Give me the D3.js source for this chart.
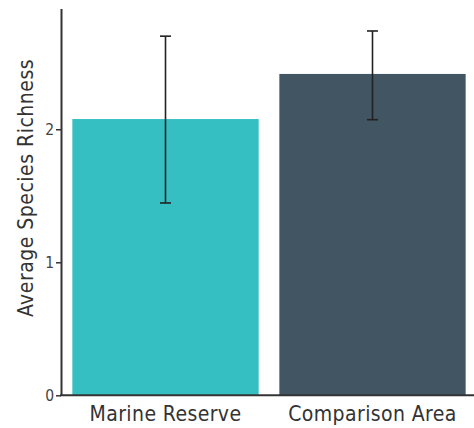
<!DOCTYPE html>
<html>
<head>
<meta charset="utf-8">
<script src="https://cdn.jsdelivr.net/npm/d3@7"></script>
<style>
  html, body { margin: 0; padding: 0; background: #fff; }
  svg { display: block; }
</style>
</head>
<body>
<script>
const categories = ["Marine Reserve", "Comparison Area"];
const means = [2.077, 2.416];
const errLow = [1.446, 2.072];
const errHigh = [2.700, 2.739];
const barColors = ["#35bfc2", "#425563"];
const yTicks = [0, 1, 2];
const yTitle = "Average Species Richness";

const W = 474, H = 428;
const svg = d3.select("body").append("svg").attr("width", W).attr("height", H);

const y = d3.scaleLinear().domain([0, 2.908]).range([395.3, 8.5]);
const x = d3.scaleBand().domain(categories).range([62, 476]).paddingInner(0.1).paddingOuter(0.05);

const font = "'DejaVu Sans Condensed', 'Roboto Condensed', Roboto, sans-serif";

// bars
svg.selectAll("rect.bar").data(categories).join("rect")
  .attr("class", "bar")
  .attr("x", d => x(d))
  .attr("width", x.bandwidth())
  .attr("y", (d, i) => y(means[i]))
  .attr("height", (d, i) => y(0) - y(means[i]))
  .attr("fill", (d, i) => barColors[i]);

// error bars
const eg = svg.append("g").attr("stroke", "#222").attr("stroke-width", 1.6);
categories.forEach((c, i) => {
  const cx = x(c) + x.bandwidth() / 2;
  eg.append("line").attr("x1", cx).attr("x2", cx).attr("y1", y(errLow[i])).attr("y2", y(errHigh[i]));
  eg.append("line").attr("x1", cx - 5.5).attr("x2", cx + 5.5).attr("y1", y(errLow[i])).attr("y2", y(errLow[i]));
  eg.append("line").attr("x1", cx - 5.5).attr("x2", cx + 5.5).attr("y1", y(errHigh[i])).attr("y2", y(errHigh[i]));
});

// y axis
const yAxis = svg.append("g").attr("transform", "translate(61,0)")
  .call(d3.axisLeft(y).tickValues(yTicks).tickFormat(d3.format("d")).tickSize(5).tickSizeOuter(0));
yAxis.select(".domain").attr("stroke", "#333").attr("stroke-width", 2);
yAxis.selectAll(".tick line").attr("stroke", "#333").attr("stroke-width", 1.5);
yAxis.selectAll(".tick text").attr("font-family", font).attr("font-size", 15.5).attr("fill", "#444").attr("x", -7);

// x axis
const xAxis = svg.append("g").attr("transform", `translate(0,${y(0)})`)
  .call(d3.axisBottom(x).tickSize(0).tickSizeOuter(0));
xAxis.select(".domain").attr("d", `M60,0H474`).attr("stroke", "#333").attr("stroke-width", 2);
xAxis.selectAll(".tick text").attr("font-family", font).attr("font-size", 21).attr("letter-spacing", 0.4).attr("fill", "#333").attr("dy", 0).attr("y", 26);

// y title
svg.append("text")
  .attr("transform", "translate(33,188) rotate(-90)")
  .attr("text-anchor", "middle")
  .attr("font-family", font)
  .attr("font-size", 21)
  .attr("letter-spacing", 0.5)
  .attr("fill", "#333")
  .text(yTitle);
</script>
</body>
</html>
